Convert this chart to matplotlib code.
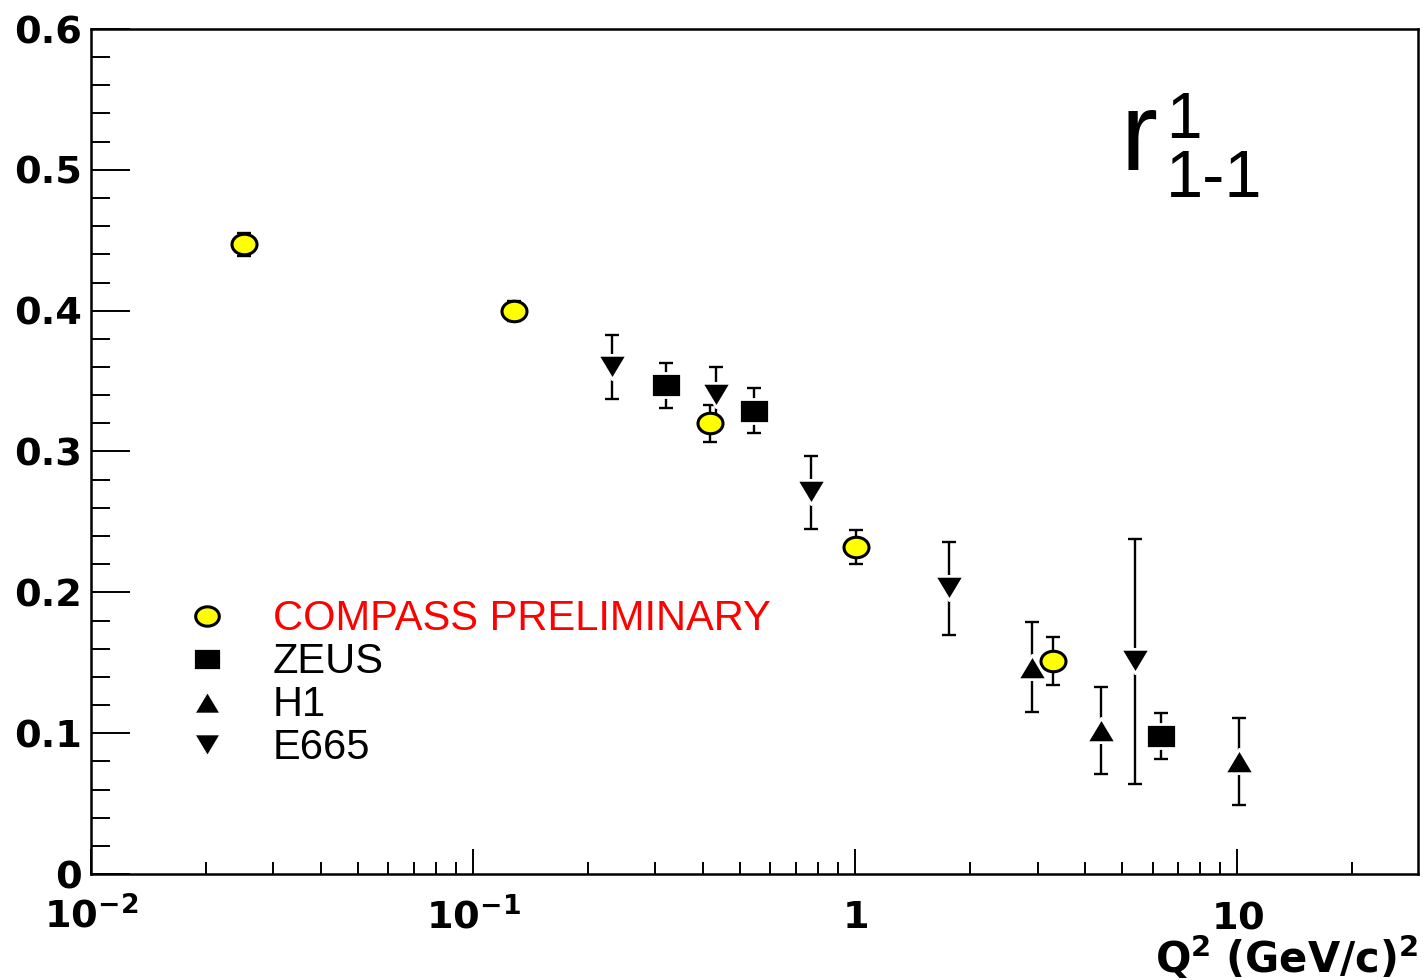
import numpy as np
import matplotlib
matplotlib.use("Agg")
from matplotlib import pyplot as plt
from matplotlib.path import Path
from matplotlib.transforms import Affine2D
from matplotlib.ticker import FixedLocator, MultipleLocator, LogLocator, NullFormatter

# r^1_{1-1} vs Q^2
compass_q2 = [0.0252, 0.128, 0.417, 1.006, 3.30]
compass_r = [0.447, 0.400, 0.320, 0.232, 0.151]
compass_err = [0.008, 0.007, 0.013, 0.012, 0.017]

zeus_q2 = [0.320, 0.544, 6.32]
zeus_r = [0.347, 0.329, 0.098]
zeus_err = [0.016, 0.016, 0.016]

h1_q2 = [2.91, 4.41, 10.1]
h1_r = [0.147, 0.102, 0.080]
h1_err = [0.032, 0.031, 0.031]

e665_q2 = [0.231, 0.433, 0.767, 1.76, 5.41]
e665_r = [0.360, 0.340, 0.271, 0.203, 0.151]
e665_err = [0.023, 0.020, 0.026, 0.033, 0.087]

x_ticks = [0.01, 0.1, 1, 10]
x_ticklabels = [r"$\mathbf{10^{-2}}$", r"$\mathbf{10^{-1}}$", r"$\mathbf{1}$", r"$\mathbf{10}$"]
y_ticks = [0, 0.1, 0.2, 0.3, 0.4, 0.5, 0.6]
y_ticklabels = ["0", "0.1", "0.2", "0.3", "0.4", "0.5", "0.6"]

legend_labels = ["COMPASS PRELIMINARY", "ZEUS", "H1", "E665"]
legend_colors = ["red", "black", "black", "black"]

# slightly wide markers, like the ROOT picture
ellipse = Path.unit_circle().transformed(Affine2D().scale(1.22, 1.0))
square = Path([(-1.25, -1), (1.25, -1), (1.25, 1), (-1.25, 1), (-1.25, -1)],
              [Path.MOVETO, Path.LINETO, Path.LINETO, Path.LINETO, Path.CLOSEPOLY])
tri_up = Path([(0, 1), (-1.2, -1), (1.2, -1), (0, 1)],
              [Path.MOVETO, Path.LINETO, Path.LINETO, Path.CLOSEPOLY])
tri_dn = Path([(0, -1), (-1.2, 1), (1.2, 1), (0, -1)],
              [Path.MOVETO, Path.LINETO, Path.LINETO, Path.CLOSEPOLY])

plt.rcParams["mathtext.fontset"] = "dejavusans"

fig = plt.figure(figsize=(14.25, 9.8), dpi=100)
ax = fig.add_axes([91 / 1425, 1 - 874 / 980, 1327 / 1425, 845 / 980])

# (x, y, err, marker, face, edge, edge width, size)
# white edge on the black markers leaves the small gap ROOT draws around them
series = [
    (compass_q2, compass_r, compass_err, ellipse, "yellow", "black", 2.2, 18),
    (zeus_q2, zeus_r, zeus_err, square, "black", "white", 2.0, 21.5),
    (h1_q2, h1_r, h1_err, tri_up, "black", "white", 2.0, 21),
    (e665_q2, e665_r, e665_err, tri_dn, "black", "white", 2.0, 21),
]

for q2, r, err, mk, fc, ec, mew, ms in series:
    ax.errorbar(q2, r, yerr=err, fmt="none", ecolor="black", elinewidth=1.7,
                capsize=4.7, capthick=1.7, zorder=2)
    ax.plot(q2, r, linestyle="none", marker=mk, markersize=ms, markerfacecolor=fc,
            markeredgecolor=ec, markeredgewidth=mew, zorder=3)

# legend drawn by hand to match the ROOT layout
leg_y = [0.3053, 0.2544, 0.2036, 0.1527]
for (q2, r, err, mk, fc, ec, mew, ms), lab, col, yy in zip(series, legend_labels, legend_colors, leg_y):
    ax.plot([0.0874], [yy], transform=ax.transAxes, linestyle="none", marker=mk,
            markersize=ms - 1, markerfacecolor=fc, markeredgecolor=ec,
            markeredgewidth=mew, clip_on=False)
    ax.text(0.137, yy - 14 / 845, lab, transform=ax.transAxes, color=col,
            fontsize=30, family="Liberation Sans", va="baseline", ha="left")

ax.set_xscale("log")
ax.set_xlim(0.01, 29.7)
ax.set_ylim(0, 0.6)

ax.xaxis.set_major_locator(FixedLocator(x_ticks))
ax.set_xticklabels(x_ticklabels)
ax.xaxis.set_minor_locator(LogLocator(base=10, subs=np.arange(2, 10)))
ax.xaxis.set_minor_formatter(NullFormatter())
ax.set_yticks(y_ticks)
ax.set_yticklabels(y_ticklabels, fontweight="bold", family="DejaVu Sans")
ax.yaxis.set_minor_locator(MultipleLocator(0.02))

ax.tick_params(axis="y", which="major", direction="in", length=28, width=1.4,
               labelsize=27.5, pad=6.5)
ax.tick_params(axis="y", which="minor", direction="in", length=14, width=1.4)
ax.tick_params(axis="x", which="major", direction="in", length=18, width=1.4,
               labelsize=27.5, pad=39)
ax.tick_params(axis="x", which="minor", direction="in", length=8.6, width=1.4)
for t in ax.get_xticklabels():
    t.set_verticalalignment("baseline")

for sp in ax.spines.values():
    sp.set_linewidth(1.8)

ax.set_xlabel(r"$\mathbf{Q^{2}\ (GeV/c)^{2}}$", fontsize=30)
ax.xaxis.set_label_coords(1.0, -0.0705)
ax.xaxis.label.set_horizontalalignment("right")
ax.xaxis.label.set_verticalalignment("top")

# r^1_{1-1} label
fig.text(1121 / 1425, 1 - 170 / 980, "r", fontsize=80, family="Liberation Sans", va="baseline")
fig.text(1166 / 1425, 1 - 138 / 980, "1", fontsize=46, family="Liberation Sans", va="baseline")
fig.text(1166 / 1425, 1 - 197 / 980, "1-1", fontsize=48, family="Liberation Sans", va="baseline")

fig.savefig("out.png", dpi=100)
